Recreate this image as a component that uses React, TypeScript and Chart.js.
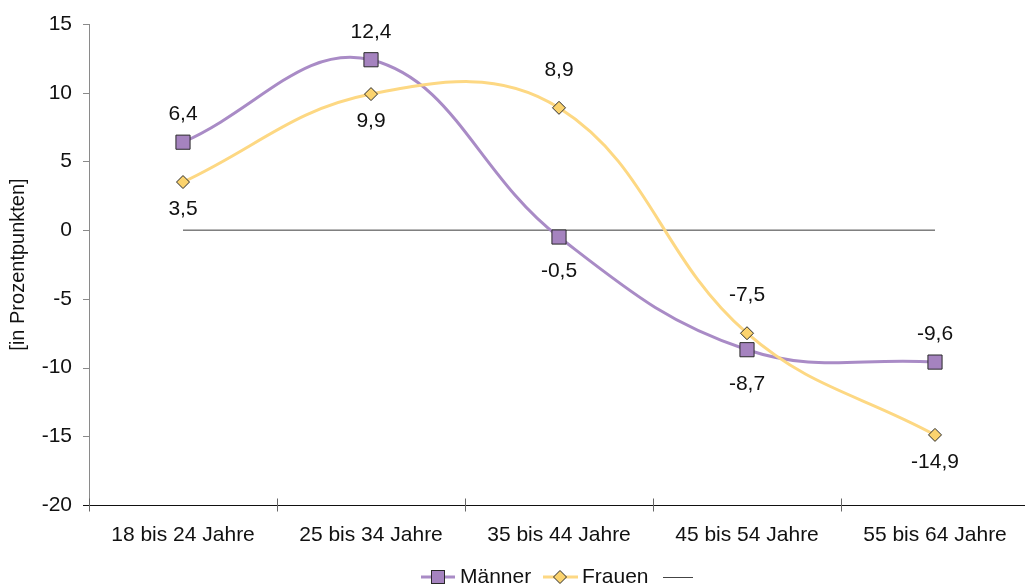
import React, { useEffect, useRef } from "react";
import { Chart, registerables } from "chart.js";

Chart.register(...registerables);

const categories = ["18 bis 24 Jahre", "25 bis 34 Jahre", "35 bis 44 Jahre", "45 bis 54 Jahre", "55 bis 64 Jahre"];
const maenner = [6.4, 12.4, -0.5, -8.7, -9.6];
const frauen = [3.5, 9.9, 8.9, -7.5, -14.9];
const nullLinie = [0, 0, 0, 0, 0];
const yMin = -20;
const yMax = 15;
const yStep = 5;
const maennerLabelPos = ["above", "above", "below", "below", "above"];
const frauenLabelPos = ["below", "below", "above", "above", "below"];

const FONT = "'Liberation Sans', Arial, sans-serif";
const FS = 21;
const PURPLE_LINE = "#a98bc6";
const PURPLE_FILL = "#a583bf";
const YELLOW_LINE = "#fdd883";
const YELLOW_FILL = "#fbd36e";
const MARKER_BORDER = "#2a2a2a";

const fmt = (v: number) => v.toFixed(1).replace(".", ",");

const customPlugin = {
  id: "custom",
  afterDatasetsDraw(chart: any) {
    const ctx = chart.ctx;
    const area = chart.chartArea;
    const y = chart.scales.y;
    ctx.save();
    // y axis line + ticks
    ctx.strokeStyle = "#8a8a8a";
    ctx.lineWidth = 1;
    ctx.beginPath();
    ctx.moveTo(area.left + 0.5, area.top);
    ctx.lineTo(area.left + 0.5, area.bottom);
    for (let v = yMin; v <= yMax; v += yStep) {
      const py = Math.round(y.getPixelForValue(v)) + 0.5;
      ctx.moveTo(area.left - 6, py);
      ctx.lineTo(area.left, py);
    }
    ctx.stroke();
    // x axis line + ticks
    ctx.strokeStyle = "#111";
    ctx.beginPath();
    const by = Math.round(area.bottom) + 0.5;
    ctx.moveTo(area.left - 6, by);
    ctx.lineTo(area.right, by);
    ctx.stroke();
    ctx.strokeStyle = "#666";
    ctx.beginPath();
    const n = categories.length;
    for (let i = 0; i <= n; i++) {
      const px = Math.round(area.left + (i * (area.right - area.left)) / n) + 0.5;
      ctx.moveTo(px, by - 7);
      ctx.lineTo(px, by + 6);
    }
    ctx.stroke();

    // data labels
    ctx.fillStyle = "#111";
    ctx.font = `${FS}px ${FONT}`;
    ctx.textAlign = "center";
    ctx.textBaseline = "middle";
    const drawLabels = (dsIndex: number, values: number[], pos: string[], above: number, below: number) => {
      const meta = chart.getDatasetMeta(dsIndex);
      meta.data.forEach((pt: any, i: number) => {
        const off = pos[i] === "above" ? -above : below;
        ctx.fillText(fmt(values[i]), pt.x, pt.y + off);
      });
    };
    drawLabels(0, maenner, maennerLabelPos, 28, 34);
    drawLabels(1, frauen, frauenLabelPos, 38, 27);
    ctx.restore();
  },
  afterDraw(chart: any) {
    const ctx = chart.ctx;
    ctx.save();
    const ly = 577;
    ctx.font = `${FS}px ${FONT}`;
    ctx.textBaseline = "middle";
    ctx.textAlign = "left";
    // Männer
    ctx.strokeStyle = PURPLE_LINE;
    ctx.lineWidth = 3;
    ctx.beginPath();
    ctx.moveTo(421, ly);
    ctx.lineTo(455, ly);
    ctx.stroke();
    ctx.fillStyle = PURPLE_FILL;
    ctx.strokeStyle = MARKER_BORDER;
    ctx.lineWidth = 1;
    ctx.fillRect(431.5, ly - 6.5, 13, 13);
    ctx.strokeRect(431.5, ly - 6.5, 13, 13);
    ctx.fillStyle = "#111";
    ctx.fillText("Männer", 460, ly);
    // Frauen
    ctx.strokeStyle = YELLOW_LINE;
    ctx.lineWidth = 3;
    ctx.beginPath();
    ctx.moveTo(543, ly);
    ctx.lineTo(578, ly);
    ctx.stroke();
    ctx.fillStyle = YELLOW_FILL;
    ctx.strokeStyle = MARKER_BORDER;
    ctx.lineWidth = 1;
    ctx.beginPath();
    ctx.moveTo(560, ly - 6.5);
    ctx.lineTo(566.5, ly);
    ctx.lineTo(560, ly + 6.5);
    ctx.lineTo(553.5, ly);
    ctx.closePath();
    ctx.fill();
    ctx.stroke();
    ctx.fillStyle = "#111";
    ctx.fillText("Frauen", 582, ly);
    // blank series
    ctx.strokeStyle = "#444";
    ctx.lineWidth = 1;
    ctx.beginPath();
    ctx.moveTo(663, ly + 0.5);
    ctx.lineTo(693, ly + 0.5);
    ctx.stroke();
    ctx.restore();
  },
};

export default function App() {
  const ref = useRef<HTMLCanvasElement | null>(null);
  useEffect(() => {
    if (!ref.current) return;
    const chart = new Chart(ref.current, {
      type: "line",
      data: {
        labels: categories,
        datasets: [
          {
            label: "Männer",
            data: maenner,
            borderColor: PURPLE_LINE,
            borderWidth: 3,
            tension: 0.4,
            pointStyle: "rect",
            pointRadius: 10,
            pointBackgroundColor: PURPLE_FILL,
            pointBorderColor: MARKER_BORDER,
            pointBorderWidth: 1,
            order: 1,
          },
          {
            label: "Frauen",
            data: frauen,
            borderColor: YELLOW_LINE,
            borderWidth: 3,
            tension: 0.4,
            pointStyle: "rectRot",
            pointRadius: 6.5,
            pointBackgroundColor: YELLOW_FILL,
            pointBorderColor: MARKER_BORDER,
            pointBorderWidth: 1,
            order: 0,
          },
          {
            label: "",
            data: nullLinie,
            borderColor: "#3a3a3a",
            borderWidth: 1,
            pointRadius: 0,
            tension: 0,
            order: 2,
          },
        ],
      },
      options: {
        animation: false,
        responsive: false,
        devicePixelRatio: 1,
        layout: { padding: { left: 0, top: 24, right: 7, bottom: 0 } },
        plugins: { legend: { display: false }, tooltip: { enabled: false } },
        scales: {
          x: {
            type: "category",
            offset: true,
            grid: { display: false, drawTicks: false },
            border: { display: false },
            ticks: {
              autoSkip: false,
              maxRotation: 0,
              padding: 18,
              color: "#111",
              font: { family: FONT, size: FS },
            },
            afterFit: (s: any) => {
              s.height = 83;
            },
          },
          y: {
            min: yMin,
            max: yMax,
            grid: { display: false, drawTicks: false },
            border: { display: false },
            ticks: {
              stepSize: yStep,
              padding: 17,
              color: "#111",
              font: { family: FONT, size: FS },
            },
            title: {
              display: true,
              text: "[in Prozentpunkten]",
              color: "#111",
              font: { family: FONT, size: 20 },
              padding: { top: 6, bottom: 0 },
            },
            afterFit: (s: any) => {
              s.width = 89;
              s.paddingTop = 0;
              s.paddingBottom = 0;
            },
          },
        },
      },
      plugins: [customPlugin],
    } as any);
    return () => chart.destroy();
  }, []);
  return (
    <div style={{ position: "fixed", left: 0, top: 0, width: 1025, height: 588, overflow: "hidden", background: "#fff" }}>
      <canvas ref={ref} width={1040} height={588} style={{ display: "block" }} />
    </div>
  );
}
